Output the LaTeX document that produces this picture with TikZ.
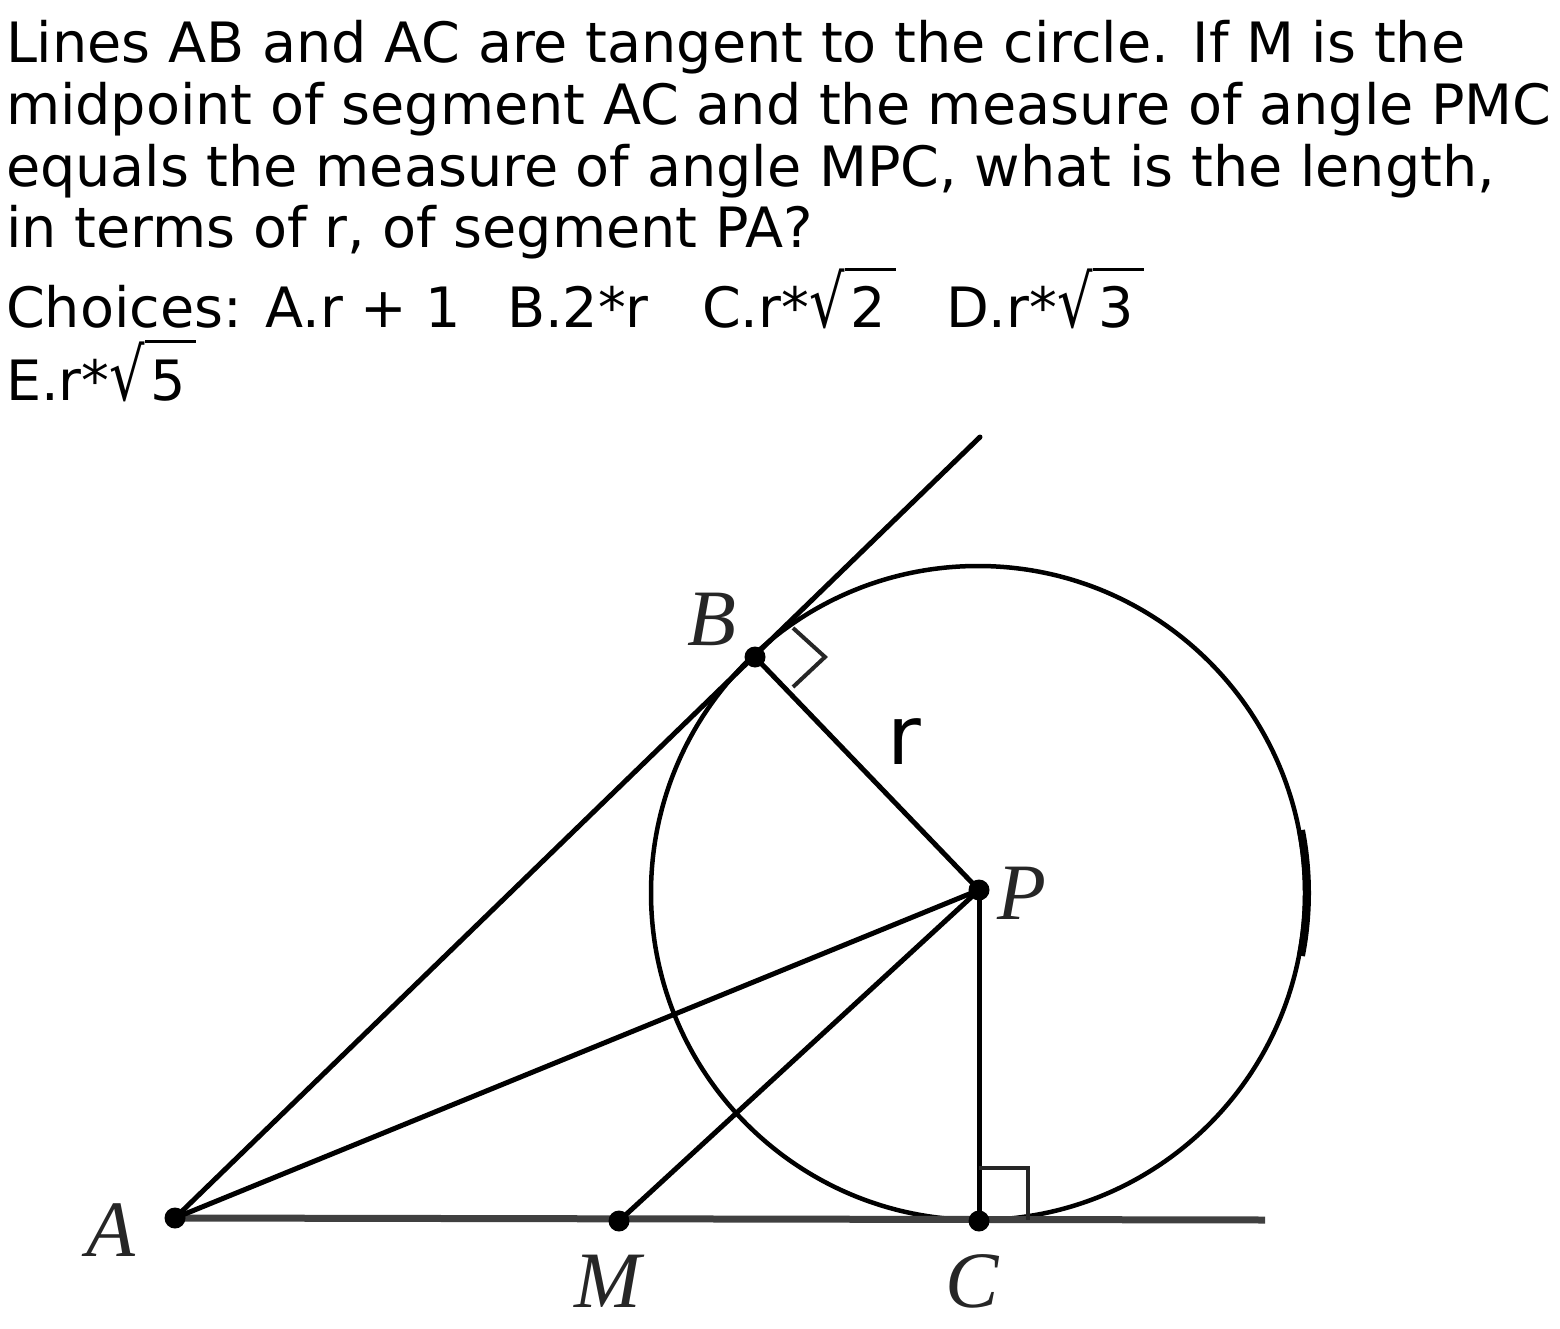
\documentclass[tikz,border=0pt]{standalone}
\usepackage{fontspec}
\setmainfont{DejaVu Sans}
\newfontfamily\labfont{Liberation Serif}
\newcommand\rt[1]{\scalebox{1}[1.3]{√}\rlap{\rule[1.03em]{0.92em}{0.05em}}\hspace{0.1em}#1}
\tikzset{
  txt/.style={anchor=base west, inner sep=0pt, outer sep=0pt, font=\fontsize{55.6}{62}\selectfont},
  lab/.style={inner sep=0pt, font=\fontsize{80}{80}\labfont\itshape, text=black!85},
  geo/.style={line width=5pt, line cap=round, line join=round},
  dotp/.style={circle, fill=black, inner sep=0pt, minimum size=21pt},
}
\begin{document}
\begin{tikzpicture}[x=1pt,y=-1pt]
\useasboundingbox (0,0) rectangle (1560,1329);
% question text
\node[txt] (t1) at (6,63) {Lines AB and AC are tangent to the circle. If M is the};
\node[txt] (t2) at (6,125) {midpoint of segment AC and the measure of angle PMC};
\node[txt] (t3) at (6,187) {equals the measure of angle MPC, what is the length,};
\node[txt] (t4) at (6,248) {in terms of r, of segment PA?};
\node[txt] (c1) at (6,328) {Choices: A.r + 1};
\node[txt] (c2) at (507,328) {B.2*r};
\node[txt] (c3) at (702,328) {C.r*\rt{2}};
\node[txt] (c4) at (946,328) {D.r*\rt{3}};
\node[txt] (c5) at (6,400) {E.r*\rt{5}};
% geometry points
\coordinate (A) at (175,1218);
\coordinate (M) at (619,1221);
\coordinate (C) at (979,1221);
\coordinate (P) at (979,890);
\coordinate (B) at (755,657);
\coordinate (T) at (980,437);
\coordinate (E) at (1265,1220);
\coordinate (O) at (978,893);
% circle
\draw[line width=4.5pt] (O) circle[radius=327];
\draw[line width=8pt] (O) ++(-11:329) arc[start angle=-11, end angle=11, radius=329];
% lines
\draw[line width=7pt, black!75] (A) -- (E);
\draw[geo] (A) -- (T);
\draw[geo] (A) -- (P);
\draw[geo] (M) -- (P);
\draw[geo] (B) -- (P);
\draw[geo] (P) -- (C);
% right angle marks
\draw[line width=4pt, black!85] (793,628) -- (825,657) -- (793,687);
\draw[line width=4pt, black!85] (979,1168) -- (1028,1168) -- (1028,1220);
% points
\node[dotp] (dA) at (A) {};
\node[dotp] (dB) at (B) {};
\node[dotp] (dM) at (M) {};
\node[dotp] (dC) at (C) {};
\node[dotp] (dP) at (P) {};
% labels
\node[lab] (lB) at (712,619) {B};
\node[lab] (lA) at (111,1230) {A};
\node[lab] (lM) at (608,1281) {M};
\node[lab] (lC) at (972,1281) {C};
\node[lab] (lP) at (1022,893) {P};
\node[inner sep=0pt, font=\fontsize{82}{82}\selectfont] (lr) at (904,742) {r};
\end{tikzpicture}
\end{document}
